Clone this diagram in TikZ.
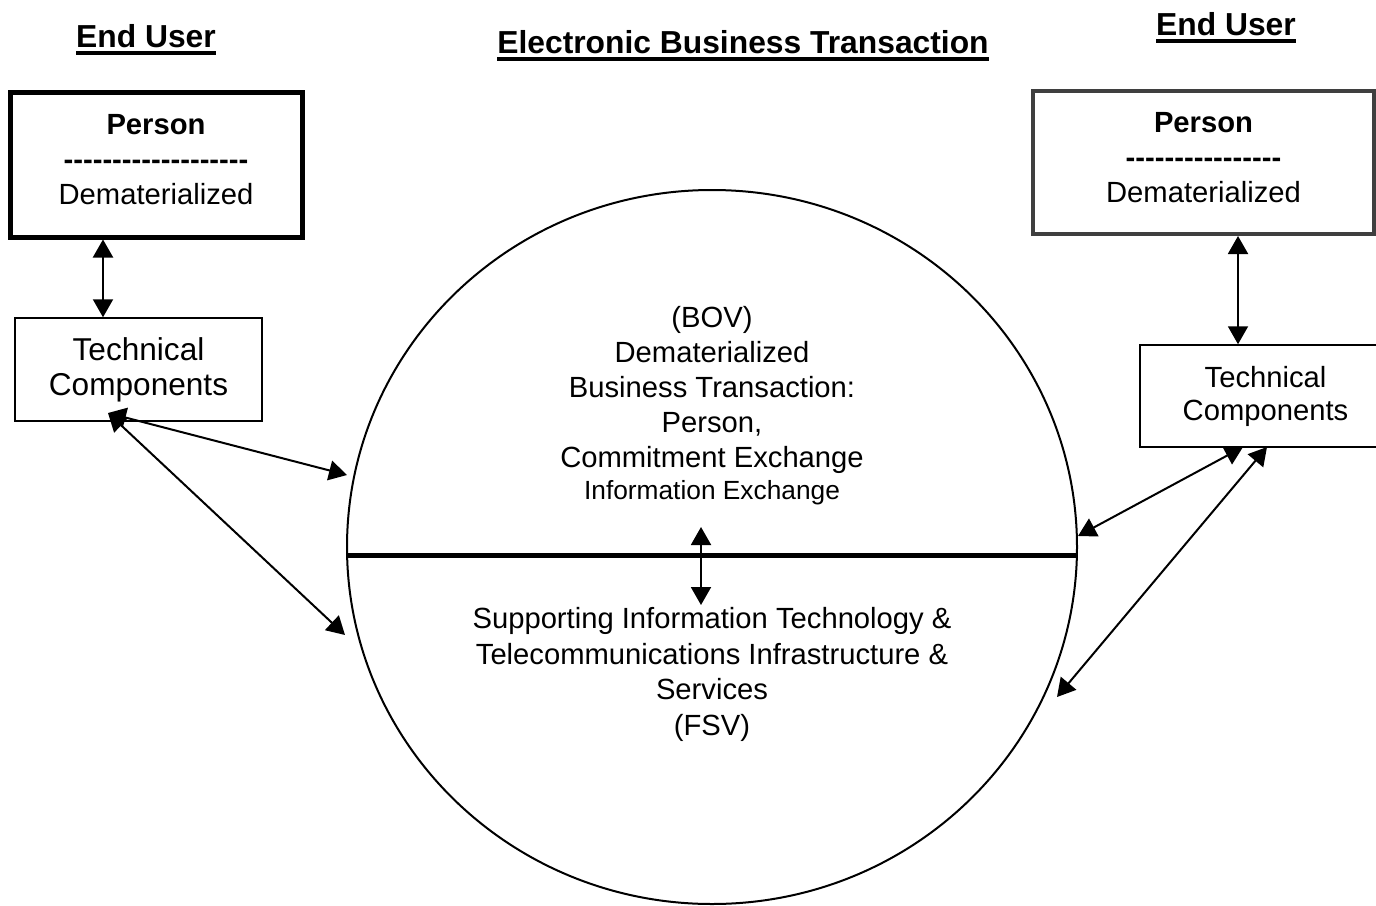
\documentclass[tikz,border=0pt]{standalone}
\usepackage{fontspec}
\setmainfont{Liberation Sans}
\usepackage{tikz}
\usetikzlibrary{arrows.meta,positioning,shapes.geometric}
\definecolor{boxgray}{HTML}{3F3F3F}
\tikzset{
  heading/.style={
      font=\fontsize{15.9}{18}\selectfont\bfseries,
      anchor=base,
      inner sep=0pt,
  },
  personbox/.style={
      draw,
      line width=2.5pt,
      minimum width=146pt,
      minimum height=72.5pt,
      align=center,
      inner sep=0pt,
  },
  techbox/.style={
      draw,
      line width=0.75pt,
      align=center,
      inner sep=0pt,
  },
  link/.style={
      {Triangle[length=9pt,width=10pt]}-{Triangle[length=9pt,width=10pt]},
      line width=1pt,
  },
}
\newcommand{\headline}[1]{%
    \setbox0\hbox{#1}\rlap{\rule[-3.8pt]{\wd0}{1.8pt}}\box0}
\newcommand{\dashrow}[1]{%
    \foreach \n in {1,...,#1}{-\kern0pt}}

\begin{document}
\begin{tikzpicture}[x=0.5pt,y=-0.5pt]
  \tikzstyle{every node}=[font=\fontsize{14.6}{17.5}\selectfont]
  \useasboundingbox (0,0) rectangle (1376,905);

  % headings
  \node[heading] (userL) at (146,47) {\headline{End User}};
  \node[heading] (userR) at (1226,35) {\headline{End User}};
  \node[heading] (ebt) at (743,53) {\headline{Electronic Business Transaction}};

  % end user boxes
  \node[personbox] (personL) at (156,164.5) {\textbf{Person}\\\textbf{\dashrow{19}}\\Dematerialized\strut};
  \node[techbox, minimum width=123.5pt, minimum height=51.5pt,
        font=\fontsize{15.8}{17.5}\selectfont] (techL) at (138.5,369.5) {Technical\\Components};

  \node[personbox, draw=boxgray, line width=2pt, minimum width=170.5pt, minimum height=71.5pt]
        (personR) at (1203.5,162.5) {\textbf{Person}\\\textbf{\dashrow{16}}\\Dematerialized\strut};
  \node[techbox, minimum width=125.5pt, minimum height=51pt,
        font=\fontsize{14.6}{16.5}\selectfont] (techR) at (1265.5,396) {Technical\\Components};

  % transaction
  \node[draw, ellipse, line width=1pt, minimum width=365pt, minimum height=357pt, inner sep=0pt]
        (circ) at (712,547) {};
  \coordinate (divL) at (347,555);
  \coordinate (divR) at (1077,555);
  \draw[line width=2.5pt] (divL) -- (divR);

  \node[align=center, anchor=north, inner sep=0pt] (bov) at (712,306)
      {(BOV)\\Dematerialized\\Business Transaction:\\Person,\\Commitment Exchange\\[-1.5pt]
       {\fontsize{13.15}{15}\selectfont Information Exchange}};
  \node[align=center, anchor=north, inner sep=0pt, font=\fontsize{14.6}{17.75}\selectfont] (fsv) at (712,607)
      {Supporting Information Technology \&\\Telecommunications Infrastructure \&\\Services\\(FSV)};

  % connectors
  \coordinate (axL) at (103,0);
  \coordinate (axR) at (1238,0);
  \coordinate (axM) at (701,0);
  \coordinate (midT) at (701,527);
  \coordinate (midB) at (701,605);
  \coordinate (tipL) at (108,413);
  \coordinate (circL1) at (347,475);
  \coordinate (circL2) at (345,635);
  \coordinate (tipR1) at (1243,447);
  \coordinate (tipR2) at (1267,447);
  \coordinate (circR1) at (1078,536);
  \coordinate (circR2) at (1057,697);

  \draw[link] (personL.south -| axL) -- (techL.north -| axL);
  \draw[link] (personR.south -| axR) -- (techR.north -| axR);
  \draw[link] (midT) -- (midB);
  \draw[link] (tipL) -- (circL1);
  \draw[link] (tipL) -- (circL2);
  \draw[link] (tipR1) -- (circR1);
  \draw[link] (tipR2) -- (circR2);
\end{tikzpicture}
\end{document}
